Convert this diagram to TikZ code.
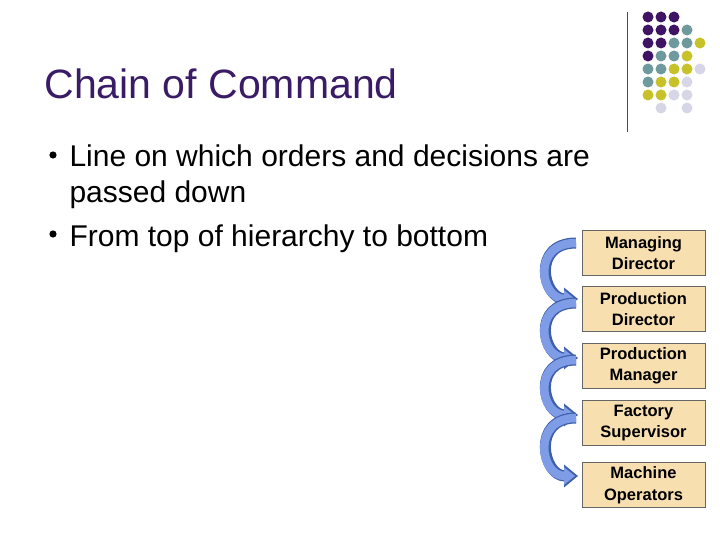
\documentclass[tikz,border=0pt]{standalone}
\usepackage{fontspec}
\setmainfont{Liberation Sans}
\usetikzlibrary{arrows.meta}
\definecolor{dp}{HTML}{3F1464}
\definecolor{tl}{HTML}{6E9A9E}
\definecolor{ol}{HTML}{C8C22A}
\definecolor{lv}{HTML}{D6D6E6}
\definecolor{tan}{HTML}{F8DFB0}
\definecolor{ttl}{HTML}{3A1C66}
\definecolor{ab}{HTML}{7E9DE6}
\definecolor{abd}{HTML}{3F5FAA}
\tikzset{box/.style={draw=black!60,fill=tan,minimum width=123pt,minimum height=45pt,inner sep=0pt,align=center,font=\fontsize{16.5}{21.5}\selectfont\bfseries},
bul/.style={anchor=base west,font=\fontsize{30}{34}\selectfont},
dot/.style={circle,minimum size=11pt,inner sep=0pt}}
\newcommand{\curvarrow}[2]{%
\draw[abd,line width=11pt,-{Triangle[length=14pt,width=22pt]}] (#1) .. controls +(-45pt,0) and +(-35pt,0) .. (#2);
\draw[ab,line width=8.5pt,-{Triangle[length=11pt,width=17pt]}] (#1) .. controls +(-45pt,0) and +(-35pt,0) .. ([xshift=-3pt]#2);}
\begin{document}
\begin{tikzpicture}[x=1pt,y=-1pt]
\useasboundingbox[fill=white] (0,0) rectangle (720,540);
\node[anchor=base west,text=ttl,font=\fontsize{41}{45}\selectfont] (title) at (41,99) {Chain of Command};
\node[bul] (b1) at (66,167) {Line on which orders and decisions are};
\node[bul] (b1b) at (66,203) {passed down};
\node[bul] (b2) at (66,246) {From top of hierarchy to bottom};
\fill (53,155) circle (3.6pt);
\fill (53,234) circle (3.6pt);
\draw[black!70,line width=1pt] (627,12) -- (627,132);
\foreach \r/\row in {0/{dp,dp,dp,,},1/{dp,dp,dp,tl,},2/{dp,dp,tl,tl,ol},3/{dp,tl,tl,ol,},4/{tl,tl,ol,ol,lv},5/{tl,ol,ol,lv,},6/{ol,ol,lv,lv,},7/{,lv,,lv,}}{
 \foreach \c [count=\i from 0] in \row {
  \ifx\c\empty\else\node[dot,fill=\c] at (648+13*\i,17+13*\r) {};\fi }}
\node[box] (m1) at (643.5,253) {Managing\\Director};
\node[box] (m2) at (643.5,309) {Production\\Director};
\node[box] (m3) at (643.5,366) {Production\\Manager};
\node[box] (m4) at (643.5,423) {Factory\\Supervisor};
\node[box] (m5) at (643.5,485) {Machine\\Operators};
\coordinate (a1) at (576,243);
\coordinate (e1) at (578,299);
\coordinate (a2) at (576,303);
\coordinate (e2) at (578,358);
\coordinate (a3) at (576,360);
\coordinate (e3) at (578,415);
\coordinate (a4) at (576,418);
\coordinate (e4) at (578,476);
\curvarrow{a1}{e1}
\curvarrow{a2}{e2}
\curvarrow{a3}{e3}
\curvarrow{a4}{e4}
\end{tikzpicture}
\end{document}
